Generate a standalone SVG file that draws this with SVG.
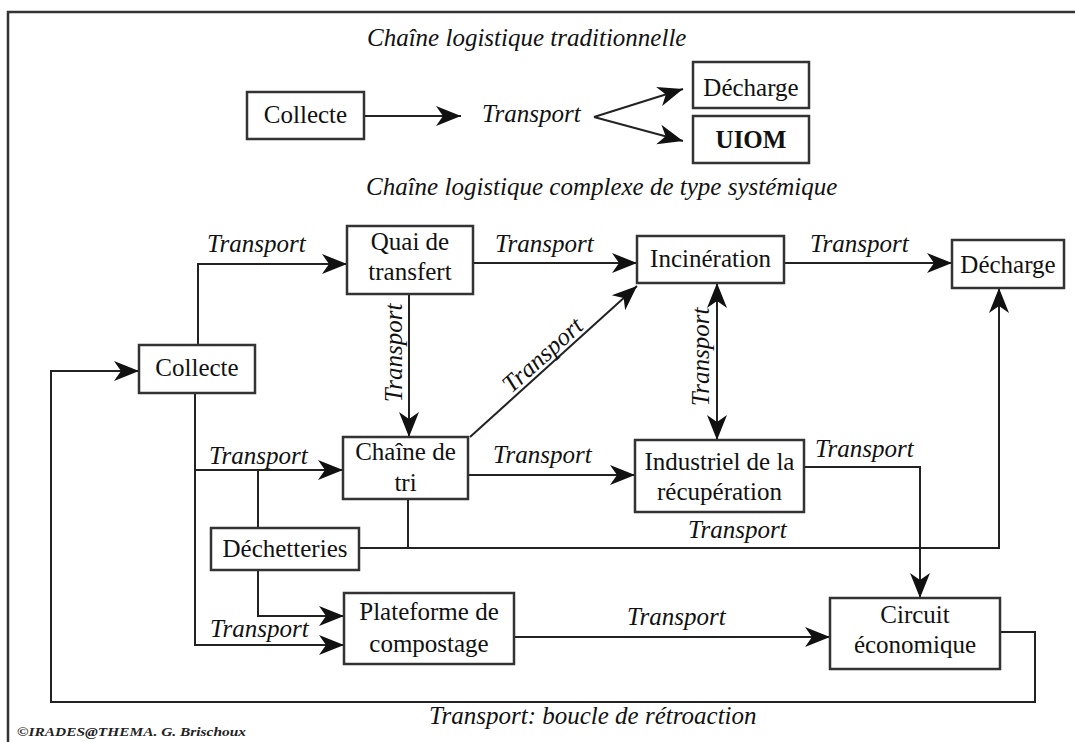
<svg xmlns="http://www.w3.org/2000/svg" width="1075" height="742" viewBox="0 0 1075 742">
<style>
  .box{fill:#fff;stroke:#333;stroke-width:2.5}
  .t{font-family:"Liberation Serif","Times New Roman",serif;font-size:25px;fill:#111;text-anchor:middle}
  .i{font-family:"Liberation Serif","Times New Roman",serif;font-size:25px;font-style:italic;fill:#111}
  .c{fill:none;stroke:#222;stroke-width:2}
  .a{marker-end:url(#arr)}
</style>
<defs>
  <marker id="arr" markerUnits="userSpaceOnUse" markerWidth="26" markerHeight="22" viewBox="0 -11 26 22" refX="25" refY="0" orient="auto-start-reverse">
    <path d="M25,0 L0,-10 L7,0 L0,10 Z" fill="#111"/>
  </marker>
</defs>
<rect width="1075" height="742" fill="#fff"/>
<rect x="8" y="12" width="1090" height="760" fill="none" stroke="#333" stroke-width="2.5"/>

<text class="i" x="367" y="46">Chaîne logistique traditionnelle</text>
<text class="i" x="366" y="195">Chaîne logistique complexe de type systémique</text>

<g id="connectors">
  <path class="c a" d="M364,116 H461"/>
  <path class="c a" d="M594,117 L683,89"/>
  <path class="c a" d="M594,117 L683,141"/>
  <path class="c a" d="M198,345 V264 H347"/>
  <path class="c a" d="M473,263 H637"/>
  <path class="c a" d="M784,263 H952"/>
  <path class="c a" d="M409,294 V437"/>
  <path class="c a" d="M470,437 L637,286"/>
  <path class="c a" d="M717,283 V440" marker-start="url(#arr)"/>
  <path class="c a" d="M468,475 H635"/>
  <path class="c a" d="M804,467 H920 V598"/>
  <path class="c a" d="M195,393 V645 H344"/>
  <path class="c a" d="M195,470 H343"/>
  <path class="c" d="M258,470 V528"/>
  <path class="c a" d="M258,570 V616 H344"/>
  <path class="c" d="M408,499 V548"/>
  <path class="c a" d="M359,548 H999 V288"/>
  <path class="c a" d="M514,637 H830"/>
  <path class="c a" d="M1000,632 H1035 V702 H51 V371 H139"/>
  <text class="i" x="482" y="122">Transport</text>
  <text class="i" x="207" y="252">Transport</text>
  <text class="i" x="495" y="252">Transport</text>
  <text class="i" x="810" y="252">Transport</text>
  <text class="i" text-anchor="middle" transform="translate(402,353) rotate(-90)">Transport</text>
  <text class="i" text-anchor="middle" transform="translate(548,361) rotate(-42)">Transport</text>
  <text class="i" text-anchor="middle" transform="translate(709,357) rotate(-90)">Transport</text>
  <text class="i" x="493" y="463">Transport</text>
  <text class="i" x="815" y="457">Transport</text>
  <text class="i" x="209" y="464">Transport</text>
  <text class="i" x="688" y="538">Transport</text>
  <text class="i" x="210" y="637">Transport</text>
  <text class="i" x="627" y="625">Transport</text>
  <text class="i" x="429" y="724">Transport: boucle de rétroaction</text>
</g>

<g id="collecte-trad"><rect class="box" x="247" y="92" width="117" height="47"/><text class="t" x="305.5" y="123">Collecte</text></g>
<g id="decharge-trad"><rect class="box" x="693" y="62" width="116" height="46"/><text class="t" x="751" y="96">Décharge</text></g>
<g id="uiom"><rect class="box" x="693" y="116" width="116" height="47"/><text class="t" x="751" y="148" font-weight="bold">UIOM</text></g>

<g id="quai"><rect class="box" x="347" y="226" width="126" height="68"/><text class="t" x="410" y="250">Quai de</text><text class="t" x="410" y="280">transfert</text></g>
<g id="incineration"><rect class="box" x="637" y="236" width="147" height="47"/><text class="t" x="710.5" y="267">Incinération</text></g>
<g id="decharge"><rect class="box" x="952" y="240" width="112" height="48"/><text class="t" x="1008" y="273">Décharge</text></g>
<g id="collecte"><rect class="box" x="139" y="345" width="116" height="48"/><text class="t" x="197" y="376">Collecte</text></g>
<g id="chaine-tri"><rect class="box" x="343" y="437" width="125" height="62"/><text class="t" x="405.5" y="460">Chaîne de</text><text class="t" x="405.5" y="491">tri</text></g>
<g id="industriel"><rect class="box" x="635" y="440" width="169" height="72"/><text class="t" x="719.5" y="470">Industriel de la</text><text class="t" x="719.5" y="500">récupération</text></g>
<g id="dechetteries"><rect class="box" x="211" y="528" width="148" height="42"/><text class="t" x="285" y="557">Déchetteries</text></g>
<g id="plateforme"><rect class="box" x="344" y="593" width="170" height="71"/><text class="t" x="429" y="620">Plateforme de</text><text class="t" x="429" y="652">compostage</text></g>
<g id="circuit"><rect class="box" x="830" y="598" width="170" height="71"/><text class="t" x="915" y="623">Circuit</text><text class="t" x="915" y="653">économique</text></g>

<text x="17" y="736" font-family="'Liberation Serif','Times New Roman',serif" font-size="13" font-weight="bold" font-style="italic" fill="#222" textLength="229" lengthAdjust="spacingAndGlyphs">©IRADES@THEMA. G. Brischoux</text>
</svg>
